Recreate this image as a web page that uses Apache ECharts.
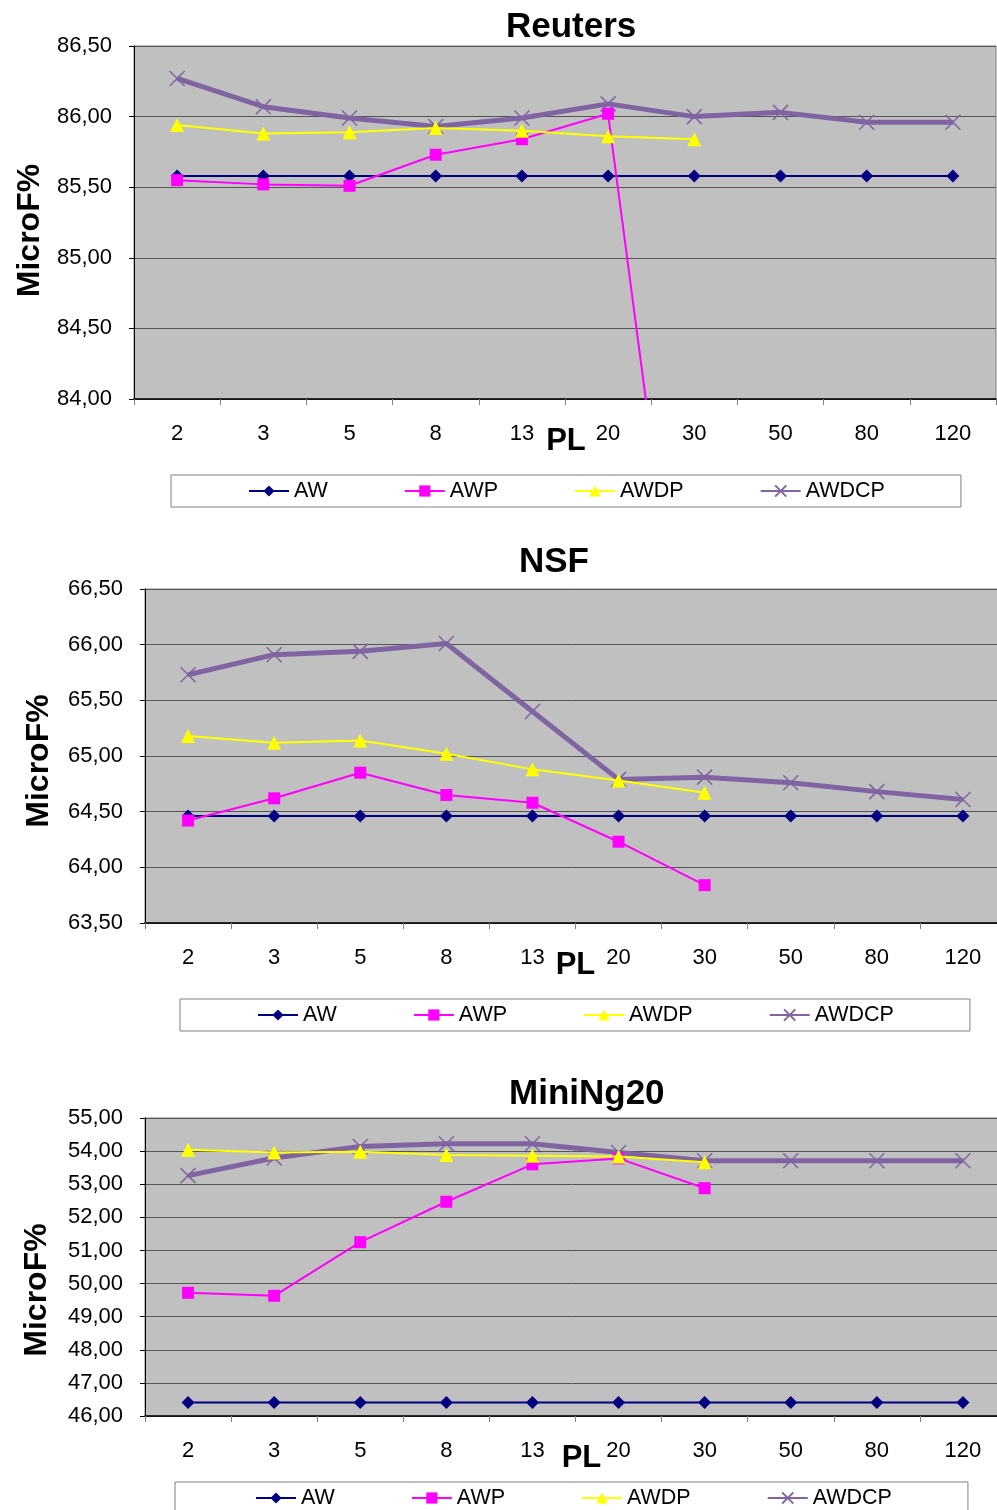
<!DOCTYPE html>
<html><head><meta charset="utf-8">
<script src="https://cdn.jsdelivr.net/npm/echarts@6/dist/echarts.min.js"></script>
<style>html,body{margin:0;padding:0;background:#fff}#c{width:997px;height:1510px}</style>
</head><body><div id="c"></div>
<script>
const categories = ['2','3','5','8','13','20','30','50','80','120'];
const seriesNames = ['AW','AWP','AWDP','AWDCP'];
const chartTitles = ['Reuters','NSF','MiniNg20'];

// Reuters
const reutersAW    = [85.58,85.58,85.58,85.58,85.58,85.58,85.58,85.58,85.58,85.58];
const reutersAWP   = [85.55,85.52,85.51,85.73,85.84,86.02,81.40,null,null,null];
const reutersAWDP  = [85.94,85.88,85.89,85.92,85.90,85.86,85.84,null,null,null];
const reutersAWDCP = [86.27,86.07,85.99,85.93,85.99,86.09,86.00,86.03,85.96,85.96];

// NSF
const nsfAW    = [64.46,64.46,64.46,64.46,64.46,64.46,64.46,64.46,64.46,64.46];
const nsfAWP   = [64.42,64.62,64.85,64.65,64.58,64.23,63.84,null,null,null];
const nsfAWDP  = [65.18,65.12,65.14,65.02,64.88,64.78,64.67,null,null,null];
const nsfAWDCP = [65.73,65.91,65.94,66.01,65.40,64.79,64.81,64.76,64.68,64.61];

// MiniNg20
const miniAW    = [46.41,46.41,46.41,46.41,46.41,46.41,46.41,46.41,46.41,46.41];
const miniAWP   = [49.72,49.63,51.25,52.47,53.60,53.78,52.88,null,null,null];
const miniAWDP  = [54.04,53.96,53.98,53.88,53.86,53.84,53.66,null,null,null];
const miniAWDCP = [53.26,53.79,54.14,54.22,54.22,53.96,53.71,53.71,53.71,53.71];

// y-axis ranges [min, max, interval]
const yRanges = [[84, 86.5, 0.5],[63.5, 66.5, 0.5],[46, 55, 1]];
const xAxisName = 'PL';
const yAxisName = 'MicroF%';

const allData = [
  [reutersAW, reutersAWP, reutersAWDP, reutersAWDCP],
  [nsfAW, nsfAWP, nsfAWDP, nsfAWDCP],
  [miniAW, miniAWP, miniAWDP, miniAWDCP]
];

const FONT = "'Liberation Sans', Arial, sans-serif";
const colors = ['#000080','#FF00FF','#FFFF00','#8064A2'];
const symbols = ['diamond','rect','triangle','path://M0,0L10,10M10,0L0,10'];
const symbolSizes = [13,12,14,15];
const lineWidths = [2,2,2,5];

const grids = [
  {left:134, top:46, width:862, height:353},
  {left:145, top:589, width:861, height:334},
  {left:145, top:1118, width:861, height:298}
];
const titlePos = [{left:506, top:10},{left:519, top:545},{left:509, top:1077}];
const legendPos = [{left:171, top:475, pl:77},{left:180, top:999, pl:77},{left:175, top:1482, pl:80}];
const yNameGap = [88, 90, 92];
const yNameShift = [16, 10, 46];
const xNameShift = [2, 0, 12];

const option = {
  animation:false,
  backgroundColor:'#fff',
  title: chartTitles.map((t,i)=>({text:t, left:titlePos[i].left, top:titlePos[i].top, padding:0,
    textStyle:{fontFamily:FONT, fontSize:35, fontWeight:'bold', color:'#000'}})),
  grid: grids.map(g=>Object.assign({show:true, containLabel:false, outerBoundsMode:'none',
    backgroundColor:'#C0C0C0', borderColor:'#808080', borderWidth:1}, g)),
  legend: legendPos.map((l,i)=>({
    data: seriesNames, left:l.left, top:l.top, orient:'horizontal',
    padding:[5,76,5,l.pl], itemGap:76, itemWidth:40, itemHeight:14,
    borderColor:'#808080', borderWidth:1, backgroundColor:'#fff',
    textStyle:{fontFamily:FONT, fontSize:21.5, color:'#000'}
  })),
  xAxis: grids.map((g,i)=>({
    type:'category', gridIndex:i, data:categories, boundaryGap:true,
    name:xAxisName, nameLocation:'middle', nameGap:27, nameMoveOverlap:false,
    nameTextStyle:{fontFamily:FONT, fontSize:31, fontWeight:'bold', color:'#000', padding:[0,0,0,xNameShift[i]]},
    axisLine:{lineStyle:{color:'#000', width:1.5}},
    axisTick:{show:true, length:6, lineStyle:{color:'#808080'}},
    axisLabel:{fontFamily:FONT, fontSize:22, color:'#000', margin:24, interval:0},
    splitLine:{show:false}
  })),
  yAxis: grids.map((g,i)=>({
    type:'value', gridIndex:i, min:yRanges[i][0], max:yRanges[i][1], interval:yRanges[i][2],
    name:yAxisName, nameLocation:'middle', nameRotate:90, nameGap:yNameGap[i], nameMoveOverlap:false,
    nameTextStyle:{fontFamily:FONT, fontSize:32, fontWeight:'bold', color:'#000', padding:[0,yNameShift[i],0,0]},
    axisLine:{show:true, lineStyle:{color:'#000', width:1}},
    axisTick:{show:true, length:5, lineStyle:{color:'#000'}},
    axisLabel:{fontFamily:FONT, fontSize:22, color:'#000', margin:22,
      formatter:v=>v.toFixed(2).replace('.',',')},
    splitLine:{show:true, lineStyle:{color:'#555', width:1}}
  })),
  series: []
};

allData.forEach((set,gi)=>{
  set.forEach((vals,si)=>{
    option.series.push({
      type:'line', name:seriesNames[si], xAxisIndex:gi, yAxisIndex:gi, data:vals,
      symbol:symbols[si], symbolSize:symbolSizes[si], showSymbol:true,
      clip:true, connectNulls:false, z: si===3 ? 2 : 3+si,
      lineStyle:{color:colors[si], width:lineWidths[si]},
      itemStyle: si===3 ? {color:colors[si], borderColor:colors[si], borderWidth:1.5}
                        : {color:colors[si], borderWidth:0},
      emphasis:{disabled:true}
    });
  });
});

const chart = echarts.init(document.getElementById('c'), null, {renderer:'canvas'});
chart.setOption(option);
</script></body></html>
